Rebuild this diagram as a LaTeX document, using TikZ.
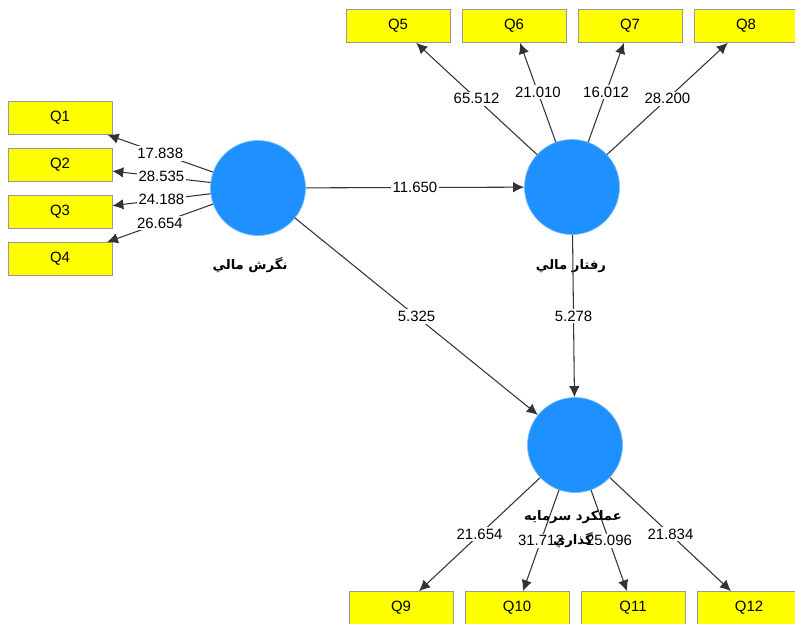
\documentclass[tikz,border=0pt]{standalone}
\usepackage{fontspec}
\setmainfont{Liberation Sans}
\newfontfamily\arabicfont[Script=Arabic]{DejaVu Sans}
\TeXXeTstate=1
\usetikzlibrary{arrows.meta}
\definecolor{lvblue}{RGB}{30,144,255}
\definecolor{mvyellow}{RGB}{255,255,0}

\begin{document}
\begin{tikzpicture}[x=0.02cm, y=-0.02cm,
    latent/.style={circle, fill=lvblue, draw=lvblue!60!white, minimum size=1.9cm, inner sep=0pt},
    item/.style={rectangle, fill=mvyellow, draw=black!40, minimum width=2.08cm, minimum height=0.66cm, inner sep=0pt, font=\fontsize{8.5}{10}\selectfont},
    arr/.style={draw=black!80, line width=0.6pt, -{Latex[length=2.2mm,width=2.1mm]}},
    coef/.style={fill=white, inner sep=1pt, font=\fontsize{8.5}{10}\selectfont},
    lvname/.style={font=\arabicfont\bfseries\fontsize{7.5}{13.6}\selectfont, align=center}]
        \useasboundingbox (0,0) rectangle (795,623);
        % Constructs
        \node[latent] (att) at (258,188) {};
        \node[latent] (beh) at (572,187) {};
        \node[latent] (perf) at (575,445) {};
        % Items
        \foreach \i/\y in {1/118, 2/165, 3/212, 4/259}
            \node[item] (q\i) at (60,\y) {Q\i};
        \foreach \i/\x in {5/398, 6/514, 7/630, 8/746}
            \node[item] (q\i) at (\x,26) {Q\i};
        \foreach \i/\x in {9/401, 10/517, 11/633, 12/749}
            \node[item] (q\i) at (\x,608) {Q\i};
        % Construct names
        \node[lvname] (attname) at (250,265) {\beginR نگرش مالي\endR};
        \node[lvname] (behname) at (571,266) {\beginR رفتار مالي\endR};
        % Outer loadings
        \foreach \i/\v in {1/17.838, 2/28.535, 3/24.188, 4/26.654}
            \draw[arr] (att) -- node[coef] {\v} (q\i);
        \foreach \i/\v in {5/65.512, 6/21.010, 7/16.012, 8/28.200}
            \draw[arr] (beh) -- node[coef] {\v} (q\i);
        \foreach \i/\v in {9/21.654, 10/31.712, 11/25.096, 12/21.834}
            \draw[arr] (perf) -- node[coef] {\v} (q\i);
        % Inner paths
        \draw[arr] (att) -- node[coef] {11.650} (beh);
        \draw[arr] (att) -- node[coef] {5.325} (perf);
        \draw[arr] (beh) -- node[coef] {5.278} (perf);
        \node[lvname] (perfname) at (573,529) {\beginR عملکرد سرمايه\endR\\\beginR گذاري\endR};
\end{tikzpicture}
\end{document}
